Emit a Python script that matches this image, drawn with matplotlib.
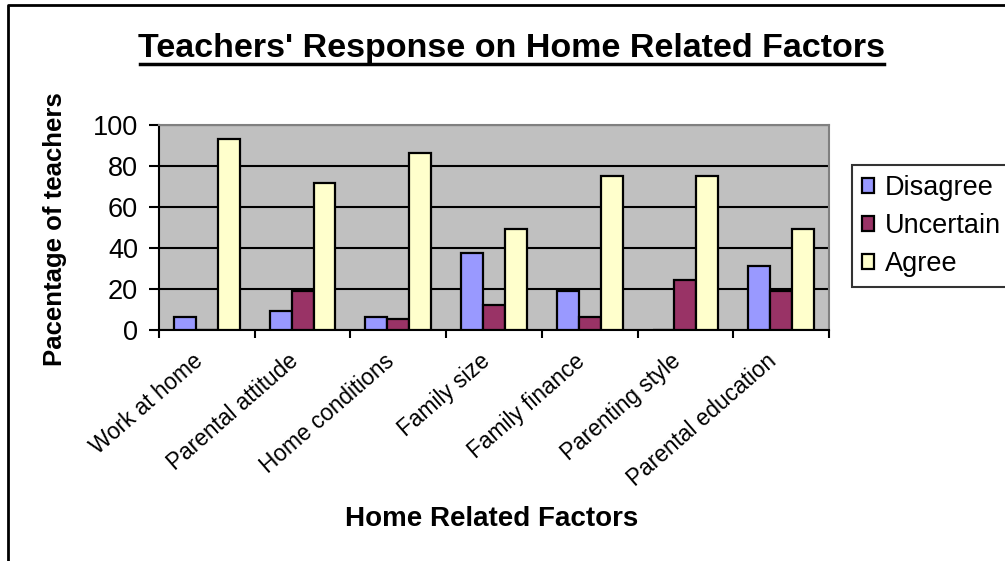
import matplotlib
matplotlib.use("Agg")
import matplotlib.pyplot as plt
import matplotlib.transforms as mtransforms
import numpy as np
from matplotlib.lines import Line2D

plt.rcParams['font.family'] = ['Liberation Sans', 'DejaVu Sans']

factors = ['Work at home', 'Parental attitude', 'Home conditions', 'Family size',
           'Family finance', 'Parenting style', 'Parental education']
disagree = [6.2, 9.1, 6.2, 37.8, 18.8, 0.0, 31.2]
uncertain = [0.0, 18.8, 5.4, 12.2, 6.4, 24.5, 18.8]
agree = [93.1, 71.5, 86.5, 49.3, 75.0, 75.0, 49.3]

W, H = 1005, 561
fig = plt.figure(figsize=(W / 100, H / 100), dpi=100)
ax = fig.add_axes([159 / W, 1 - 330 / H, 670 / W, 205 / H])
ax.set_facecolor('#C0C0C0')

x = np.arange(len(factors))
bw = 0.229
ax.bar(x - bw, disagree, bw, color='#9999FF', edgecolor='black', lw=1.6, label='Disagree', zorder=3)
ax.bar(x, uncertain, bw, color='#993366', edgecolor='black', lw=1.6, label='Uncertain', zorder=3)
ax.bar(x + bw, agree, bw, color='#FFFFCC', edgecolor='black', lw=1.6, label='Agree', zorder=3)

ax.set_xlim(-0.5, len(factors) - 0.5)
ax.set_ylim(0, 100)
ax.set_yticks(range(0, 101, 20))
ax.yaxis.grid(True, color='black', lw=1.5, zorder=1)
ax.set_axisbelow(True)
ax.tick_params(axis='y', labelsize=19.5, length=7, width=1.5, pad=8)

ax.set_xticks(x)
ax.set_xticklabels(factors, rotation=41, ha='right', rotation_mode='anchor', fontsize=16.3)
ax.tick_params(axis='x', which='major', length=0, pad=14)
ax.set_xticks(np.arange(-0.5, len(factors)), minor=True)
ax.tick_params(axis='x', which='minor', length=6, width=1.5)
shift = mtransforms.ScaledTranslation(-0.15, 0, fig.dpi_scale_trans)
for lab in ax.get_xticklabels():
    lab.set_transform(lab.get_transform() + shift)

for s in ['left', 'bottom']:
    ax.spines[s].set_linewidth(1.5)
for s in ['top', 'right']:
    ax.spines[s].set_color('#808080')
    ax.spines[s].set_linewidth(1.5)

ax.set_ylabel('Pacentage of teachers', fontsize=18.5, fontweight='bold')
ax.yaxis.set_label_coords(67 / W, 1 - 229 / H, transform=fig.transFigure)

fig.text(492 / W, 1 - 519 / H, 'Home Related Factors', fontsize=20, fontweight='bold',
         ha='center', va='center')

fig.text(512 / W, 1 - 57 / H, "Teachers' Response on Home Related Factors", fontsize=24.5,
         fontweight='bold', ha='center', va='baseline')
fig.add_artist(Line2D([140 / W, 884 / W], [1 - 64 / H, 1 - 64 / H], color='black', lw=2.5,
                      transform=fig.transFigure))

leg = fig.legend(loc='upper left', bbox_to_anchor=(852 / W, 1 - 165 / H), fontsize=19.5,
                 frameon=True, fancybox=False, edgecolor='black', borderaxespad=0,
                 handlelength=0.45, handleheight=0.45, handletextpad=0.4,
                 labelspacing=0.45, borderpad=0.37)
leg.get_frame().set_linewidth(1.5)

# outer chart border (left and top only are visible)
fig.add_artist(Line2D([8 / W, 8 / W, 1.0], [0, 1 - 5 / H, 1 - 5 / H], color='black', lw=2,
                      transform=fig.transFigure))

fig.savefig('out.png', dpi=100)
